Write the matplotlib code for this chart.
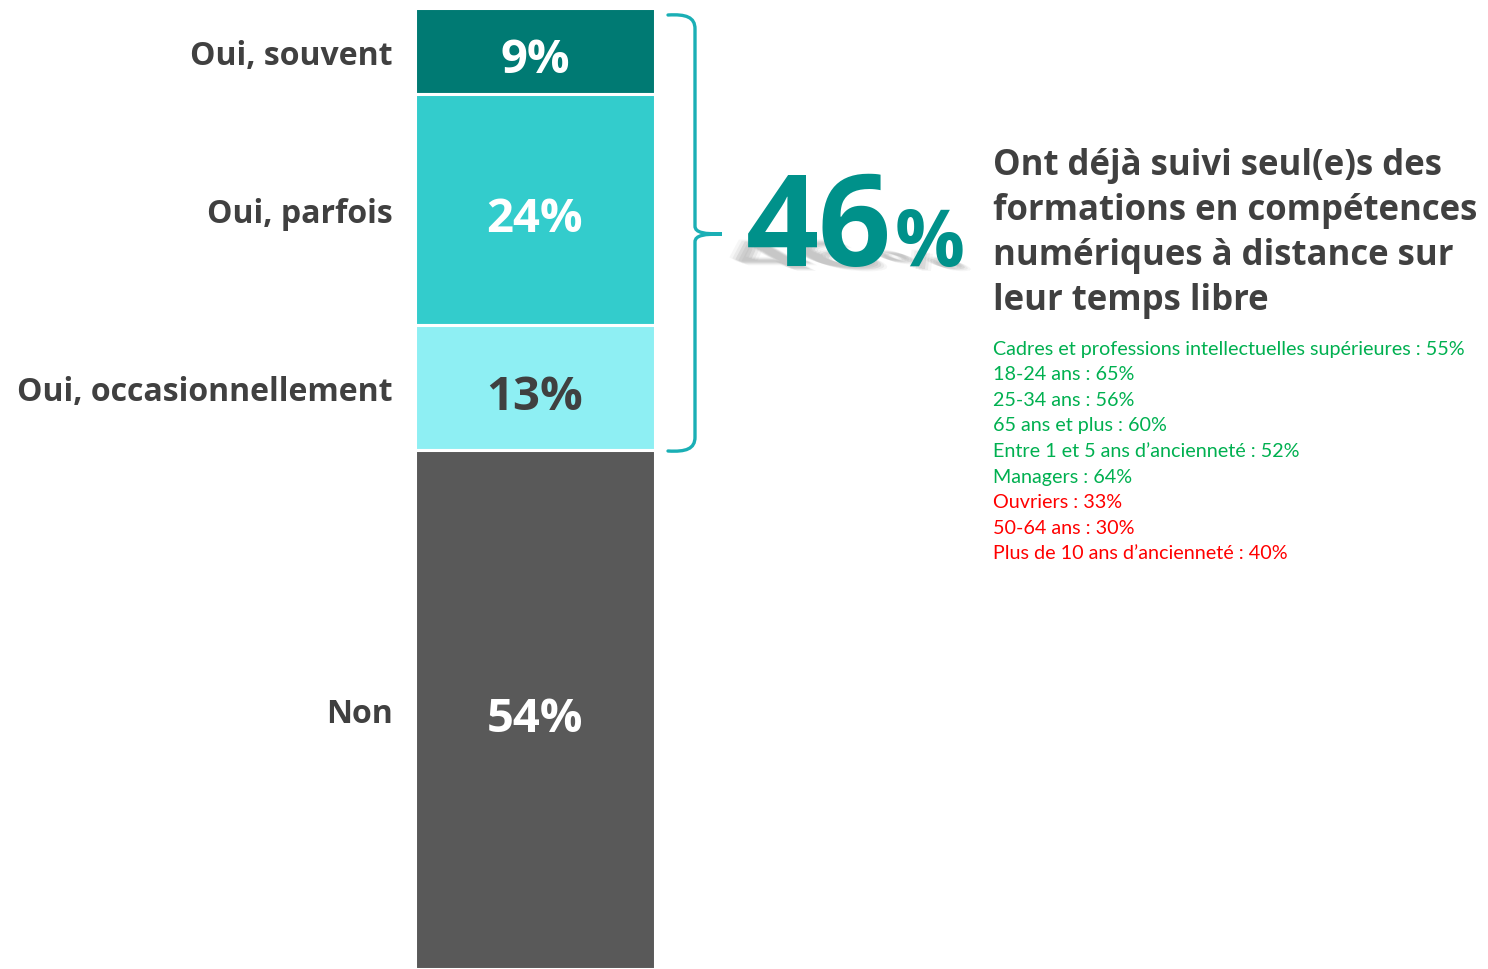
import matplotlib
matplotlib.use('Agg')
import matplotlib.pyplot as plt
from matplotlib.path import Path
from matplotlib.patches import PathPatch
from matplotlib.textpath import TextPath
from matplotlib.font_manager import FontProperties
from matplotlib.transforms import Affine2D

# Survey answers, top to bottom of the stacked bar
categories = ["Oui, souvent", "Oui, parfois", "Oui, occasionnellement", "Non"]
shares = [9, 24, 13, 54]
bar_colors = ["#007A73", "#33CCCC", "#8EEFF3", "#595959"]
value_colors = ["white", "white", "#404040", "white"]

total_yes = 46
headline = ["Ont déjà suivi seul(e)s des", "formations en compétences",
            "numériques à distance sur", "leur temps libre"]

detail_lines = [
    "Cadres et professions intellectuelles supérieures : 55%",
    "18-24 ans : 65%",
    "25-34 ans : 56%",
    "65 ans et plus : 60%",
    "Entre 1 et 5 ans d\u2019ancienneté : 52%",
    "Managers : 64%",
    "Ouvriers : 33%",
    "50-64 ans : 30%",
    "Plus de 10 ans d\u2019ancienneté : 40%",
]
detail_above = [True, True, True, True, True, True, False, False, False]

W, H = 1488, 969
BOLD = "Open Sans"
DARK = "#404040"

fig = plt.figure(figsize=(W / 100, H / 100), dpi=100)

# stacked bar, 0% at the top
ax = fig.add_axes([415 / W, 0, 240 / W, (H - 7.5) / H])
bottom = 0
for cat, val, col, tcol in zip(categories, shares, bar_colors, value_colors):
    ax.bar(0, val, bottom=bottom, width=1.0, color=col,
           edgecolor="white", linewidth=2.2)
    mid = bottom + val / 2
    ax.annotate(f"{val}%", xy=(0, mid), xytext=(0, -7),
                textcoords="offset points", ha="center", va="center",
                color=tcol, fontsize=34, fontweight="bold", family=BOLD)
    ax.annotate(cat, xy=(0, mid), xycoords=("axes fraction", "data"),
                xytext=(-16, -4), textcoords="offset points",
                ha="right", va="center", color=DARK,
                fontsize=23, fontweight="bold", family=BOLD)
    bottom += val
ax.set_xlim(-0.5, 0.5)
ax.set_ylim(100, 0)
ax.axis("off")

# overlay in pixel units for the brace and the side texts
ov = fig.add_axes([0, 0, 1, 1])
ov.set_xlim(0, W)
ov.set_ylim(0, H)
ov.axis("off")


def Y(y):
    return H - y


# curly brace around the "oui" answers
xb, tip = 695, 722
top, bot, mid = 15, 451, 234
verts = [
    (668, Y(top)), (686, Y(top - 1)), (xb, Y(top + 2)), (xb, Y(top + 14)),
    (xb, Y(mid - 8)),
    (xb, Y(mid - 1)), (705, Y(mid)), (tip, Y(mid)),
    (705, Y(mid)), (xb, Y(mid + 1)), (xb, Y(mid + 8)),
    (xb, Y(bot - 14)),
    (xb, Y(bot - 2)), (686, Y(bot + 1)), (668, Y(bot)),
]
codes = [Path.MOVETO, Path.CURVE4, Path.CURVE4, Path.CURVE4,
         Path.LINETO,
         Path.CURVE4, Path.CURVE4, Path.CURVE4,
         Path.CURVE4, Path.CURVE4, Path.CURVE4,
         Path.LINETO,
         Path.CURVE4, Path.CURVE4, Path.CURVE4]
ov.add_patch(PathPatch(Path(verts, codes), facecolor="none",
                       edgecolor="#1AAFB5", linewidth=2.4, capstyle="round"))

# big total with a soft slanted shadow
teal = "#00918A"
num_px = 128
pct_px = 58 / 0.72
base_y = Y(266)
fp = FontProperties(family=BOLD, weight="bold")
shadow_parts = [(TextPath((0, 0), str(total_yes), size=num_px, prop=fp), 750),
                (TextPath((0, 0), "%", size=pct_px, prop=fp), 900)]
for path, x0 in shadow_parts:
    for dx, dy, a in [(0, 0, 0.09), (-3, 1, 0.06), (3, -1, 0.06),
                      (-6, 2, 0.04), (6, -2, 0.04)]:
        tr = (Affine2D().scale(1, 0.3).skew_deg(-60, 0)
              .translate(x0 + dx, base_y - 3 + dy))
        ov.add_patch(PathPatch(tr.transform_path(path), facecolor="#303030",
                               edgecolor="none", alpha=a))
ov.text(746, base_y, str(total_yes), color=teal, fontsize=num_px * 0.72,
        fontweight="bold", family=BOLD, ha="left", va="baseline")
ov.text(895, base_y, "%", color=teal, fontsize=56,
        fontweight="bold", family=BOLD, ha="left", va="baseline")

# headline
for i, line in enumerate(headline):
    ov.text(993, Y(166 + i * 45), line, color=DARK, fontsize=25,
            fontweight="bold", family=BOLD, ha="left", va="center")

# sub-group results
for i, (line, above) in enumerate(zip(detail_lines, detail_above)):
    ov.text(993, Y(349 + i * 25.6), line,
            color="#00B050" if above else "#FF0000",
            fontsize=14.2, family="Lato", ha="left", va="center")

fig.savefig("out.png", dpi=100)
